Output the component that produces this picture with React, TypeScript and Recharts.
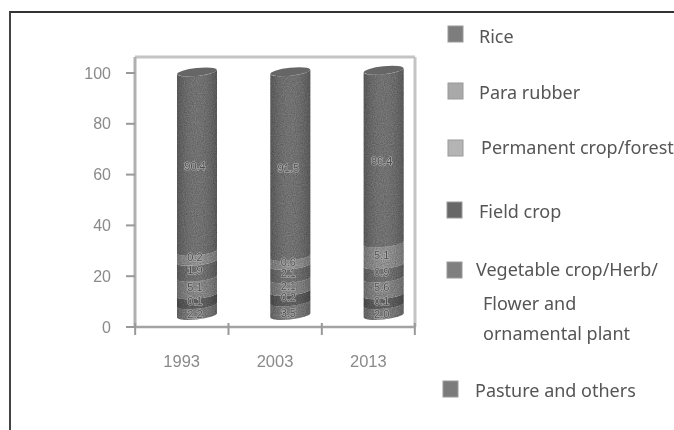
import { Bar, BarChart, LabelList, XAxis, YAxis } from "recharts";

const years = ["1993", "2003", "2013"];
const yTicks = [0, 20, 40, 60, 80, 100];

// band heights as drawn on the cylinders (the printed numbers are not to scale)
const base = [3.8, 3.8, 3.8];
const pasture = [4.2, 5.3, 4.2];
const vegetable = [3.9, 4.2, 3.9];
const fieldCrop = [6.9, 4.9, 6.6];
const permanent = [6.3, 5.3, 5.2];
const paraRubber = [3.9, 3.5, 8.6];
const rice = [70.6, 72.7, 68.0];

// numbers printed on the bands
const pastureText = ["2.2", "3.5", "2.0"];
const vegetableText = ["0.1", "0.2", "0.1"];
const fieldCropText = ["5.1", "2.1", "5.6"];
const permanentText = ["1.9", "2.1", "0.9"];
const paraRubberText = ["0.2", "0.6", "5.1"];
const riceText = ["90.4", "91.5", "86.4"];

const data = years.map((year, i) => ({
  year,
  base: base[i],
  pasture: pasture[i],
  vegetable: vegetable[i],
  fieldCrop: fieldCrop[i],
  permanent: permanent[i],
  paraRubber: paraRubber[i],
  rice: rice[i],
  pastureText: pastureText[i],
  vegetableText: vegetableText[i],
  fieldCropText: fieldCropText[i],
  permanentText: permanentText[i],
  paraRubberText: paraRubberText[i],
  riceText: riceText[i],
}));

const legendRows = [
  { name: "Rice", color: "#7d7d7d", box: [448, 26], text: [479, 43], extra: [] },
  { name: "Para rubber", color: "#a9a9a9", box: [448, 83], text: [479, 99], extra: [] },
  { name: "Permanent crop/forest", color: "#b4b4b4", box: [448, 140], text: [481, 154], extra: [] },
  { name: "Field crop", color: "#676767", box: [447, 202], text: [479, 218], extra: [] },
  { name: "Vegetable crop/Herb/", color: "#7f7f7f", box: [447, 262], text: [476, 276], extra: [["Flower and", 483, 310], ["ornamental plant", 483, 340]] },
  { name: "Pasture and others", color: "#7b7b7b", box: [443, 381], text: [475, 397], extra: [] },
];

const BAR_SHIFT = 15;
const TILT = 4;
const RY = 4;

function bandShape(color: string, cap = false) {
  return (props: any) => {
    const { x, y, width, height } = props;
    const left = x + BAR_SHIFT;
    const right = left + width;
    const yb = y + height;
    const side = `M${left},${y} L${left},${yb} A${width / 2},${RY} -6 0 0 ${right},${yb - TILT} L${right},${y - TILT} A${width / 2},${RY} -6 0 1 ${left},${y} Z`;
    return (
      <g>
        <path d={side} fill={color} />
        <path d={side} fill="url(#cylShade)" />
        <path d={side} fill="#000" filter="url(#grain)" opacity={0.3} />
        {cap && (
          <ellipse
            cx={left + width / 2}
            cy={y - TILT / 2}
            rx={width / 2}
            ry={RY}
            transform={`rotate(-6 ${left + width / 2} ${y - TILT / 2})`}
            fill="#666"
          />
        )}
      </g>
    );
  };
}

function bandLabel(dy: number) {
  return (props: any) => {
    const { x, y, width, height, value } = props;
    return (
      <text
        x={x + BAR_SHIFT + width / 2 - 2}
        y={y + height / 2 + dy}
        textAnchor="middle"
        dominantBaseline="middle"
        fontFamily="Liberation Sans"
        fontSize={11}
        fill="#505050"
        stroke="#b4b4b4"
        strokeWidth={1.2}
        paintOrder="stroke"
      >
        {value}
      </text>
    );
  };
}

function yearTick(props: any) {
  const { x, payload, index } = props;
  const half = 46.5;
  const axisY = 326;
  return (
    <g>
      <line x1={x - half} x2={x - half} y1={axisY - 3} y2={axisY + 9} stroke="#999" strokeWidth={2} />
      {index === years.length - 1 && (
        <line x1={x + half} x2={x + half} y1={axisY - 3} y2={axisY + 9} stroke="#999" strokeWidth={2} />
      )}
      <text x={x} y={367} textAnchor="middle" fontFamily="Liberation Sans" fontSize={16.5} fill="#8a8a8a">
        {payload.value}
      </text>
    </g>
  );
}

function LegendPanel() {
  const font = { fontFamily: "Noto Sans", fontSize: 18, fill: "#555" };
  return (
    <svg width={674} height={430} style={{ position: "absolute", left: 0, top: 0 }}>
      {legendRows.map((row) => (
        <g key={row.name}>
          <rect x={row.box[0]} y={row.box[1]} width={15} height={16} fill={row.color} stroke="#9a9a9a" />
          <text x={row.text[0]} y={row.text[1]} {...font}>
            {row.name}
          </text>
          {row.extra.map((line: any) => (
            <text key={line[0]} x={line[1]} y={line[2]} {...font}>
              {line[0]}
            </text>
          ))}
        </g>
      ))}
    </svg>
  );
}

export default function App() {
  return (
    <div style={{ position: "absolute", left: 0, top: 0, width: 674, height: 430, overflow: "hidden", background: "#fff", filter: "blur(0.3px)" }}>
      <div style={{ position: "absolute", left: 9, top: 11, right: 0, bottom: 0, borderTop: "2px solid #333", borderLeft: "2px solid #444" }} />
      <div style={{ position: "absolute", left: 0, top: 0 }}>
        <BarChart
          width={674}
          height={430}
          data={data}
          barSize={40}
          margin={{ top: 56, right: 258, bottom: 102, left: 91 }}
        >
          <defs>
            <linearGradient id="cylShade" x1="0" y1="0" x2="1" y2="0">
              <stop offset="0%" stopColor="#000" stopOpacity={0.18} />
              <stop offset="50%" stopColor="#fff" stopOpacity={0.06} />
              <stop offset="100%" stopColor="#000" stopOpacity={0.18} />
            </linearGradient>
            <filter id="grain" x="0" y="0" width="100%" height="100%">
              <feTurbulence type="fractalNoise" baseFrequency="0.9" numOctaves={2} seed={4} />
              <feColorMatrix values="0 0 0 0 0  0 0 0 0 0  0 0 0 0 0  0 0 0 1.4 -0.35" />
              <feComposite in2="SourceGraphic" operator="in" />
            </filter>
          </defs>
          <XAxis dataKey="year" height={1} tick={yearTick} tickLine={false} axisLine={{ stroke: "#a3a3a3", strokeWidth: 2.5 }} interval={0} />
          <XAxis xAxisId="frame" orientation="top" dataKey="year" tick={false} tickLine={false} height={1} axisLine={{ stroke: "#c4c4c4", strokeWidth: 3 }} />
          <YAxis
            domain={[0, 106.3]}
            ticks={yTicks}
            width={44}
            tickSize={9}
            tickMargin={15}
            tickLine={{ stroke: "#999", strokeWidth: 2 }}
            tick={{ fill: "#8a8a8a", fontSize: 16, fontFamily: "Liberation Sans" }}
            axisLine={{ stroke: "#b0b0b0", strokeWidth: 3 }}
          />
          <YAxis yAxisId="frame" orientation="right" tick={false} tickLine={false} width={1} axisLine={{ stroke: "#c4c4c4", strokeWidth: 3 }} />
          <Bar dataKey="base" stackId="a" fill="none" isAnimationActive={false} legendType="none" />
          <Bar dataKey="pasture" stackId="a" isAnimationActive={false} shape={bandShape("#828282")}>
            <LabelList dataKey="pastureText" content={bandLabel(3)} />
          </Bar>
          <Bar dataKey="vegetable" stackId="a" isAnimationActive={false} shape={bandShape("#5f5f5f")}>
            <LabelList dataKey="vegetableText" content={bandLabel(0)} />
          </Bar>
          <Bar dataKey="fieldCrop" stackId="a" isAnimationActive={false} shape={bandShape("#8e8e8e")}>
            <LabelList dataKey="fieldCropText" content={bandLabel(0)} />
          </Bar>
          <Bar dataKey="permanent" stackId="a" isAnimationActive={false} shape={bandShape("#747474")}>
            <LabelList dataKey="permanentText" content={bandLabel(0)} />
          </Bar>
          <Bar dataKey="paraRubber" stackId="a" isAnimationActive={false} shape={bandShape("#9a9a9a")}>
            <LabelList dataKey="paraRubberText" content={bandLabel(0)} />
          </Bar>
          <Bar dataKey="rice" stackId="a" isAnimationActive={false} shape={bandShape("#767676", true)}>
            <LabelList dataKey="riceText" content={bandLabel(3)} />
          </Bar>
        </BarChart>
      </div>
      <LegendPanel />
    </div>
  );
}
